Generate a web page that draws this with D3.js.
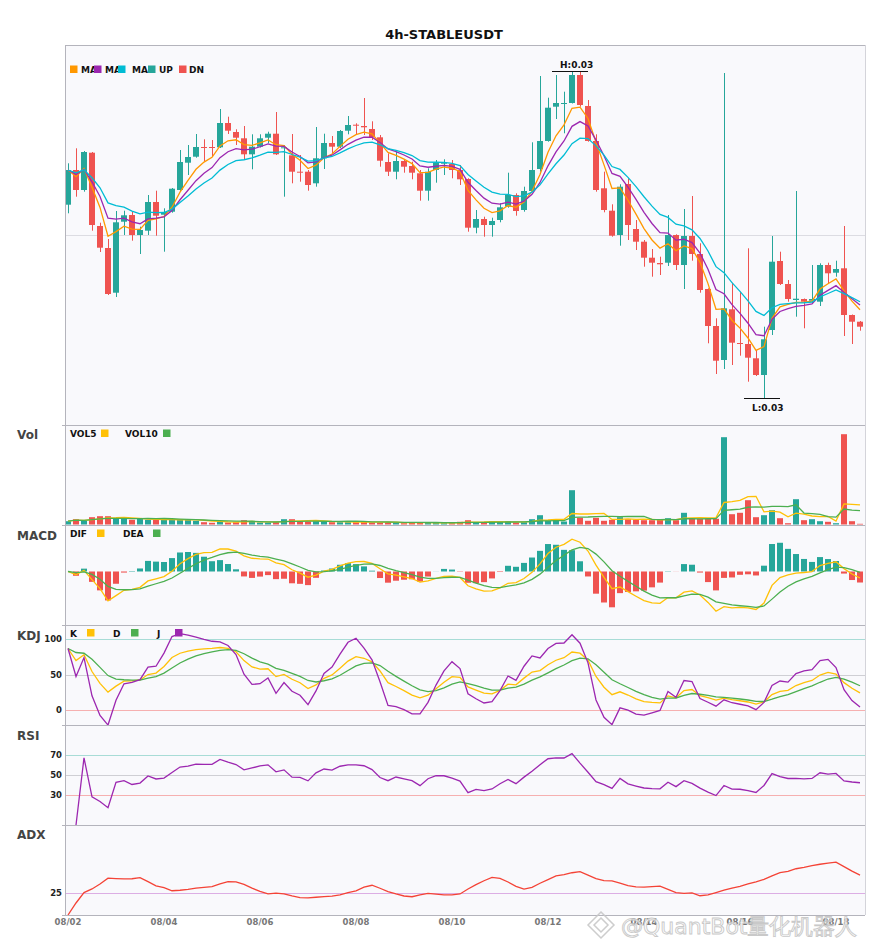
<!DOCTYPE html>
<html><head><meta charset="utf-8">
<script src="https://cdn.jsdelivr.net/npm/d3@7"></script>
<style>body{margin:0;background:#fff} text{font-family:"DejaVu Sans",sans-serif}</style>
</head><body>
<svg id="c" width="885" height="950"></svg>
<script>
const title = "4h-STABLEUSDT";
const times = [
"08/02 00:00","08/02 04:00","08/02 08:00","08/02 12:00","08/02 16:00","08/02 20:00",
"08/03 00:00","08/03 04:00","08/03 08:00","08/03 12:00","08/03 16:00","08/03 20:00",
"08/04 00:00","08/04 04:00","08/04 08:00","08/04 12:00","08/04 16:00","08/04 20:00",
"08/05 00:00","08/05 04:00","08/05 08:00","08/05 12:00","08/05 16:00","08/05 20:00",
"08/06 00:00","08/06 04:00","08/06 08:00","08/06 12:00","08/06 16:00","08/06 20:00",
"08/07 00:00","08/07 04:00","08/07 08:00","08/07 12:00","08/07 16:00","08/07 20:00",
"08/08 00:00","08/08 04:00","08/08 08:00","08/08 12:00","08/08 16:00","08/08 20:00",
"08/09 00:00","08/09 04:00","08/09 08:00","08/09 12:00","08/09 16:00","08/09 20:00",
"08/10 00:00","08/10 04:00","08/10 08:00","08/10 12:00","08/10 16:00","08/10 20:00",
"08/11 00:00","08/11 04:00","08/11 08:00","08/11 12:00","08/11 16:00","08/11 20:00",
"08/12 00:00","08/12 04:00","08/12 08:00","08/12 12:00","08/12 16:00","08/12 20:00",
"08/13 00:00","08/13 04:00","08/13 08:00","08/13 12:00","08/13 16:00","08/13 20:00",
"08/14 00:00","08/14 04:00","08/14 08:00","08/14 12:00","08/14 16:00","08/14 20:00",
"08/15 00:00","08/15 04:00","08/15 08:00","08/15 12:00","08/15 16:00","08/15 20:00",
"08/16 00:00","08/16 04:00","08/16 08:00","08/16 12:00","08/16 16:00","08/16 20:00",
"08/17 00:00","08/17 04:00","08/17 08:00","08/17 12:00","08/17 16:00","08/17 20:00",
"08/18 00:00","08/18 04:00","08/18 08:00","08/18 12:00"];
const open = [
0.030906,0.031600,0.031200,0.031946,0.030480,0.030040,0.029146,0.030566,0.030700,0.030300,
0.030386,0.030960,0.030706,0.030766,0.031200,0.031746,0.031866,0.032060,0.032060,0.032054,
0.032540,0.032360,0.032234,0.031914,0.032066,0.032246,0.032326,0.032034,0.031894,0.031566,
0.031566,0.031334,0.031834,0.032140,0.032066,0.032386,0.032506,0.032480,0.032420,0.032254,
0.031760,0.031566,0.031780,0.031680,0.031534,0.031186,0.031600,0.031734,0.031720,0.031600,
0.031420,0.030446,0.030620,0.030500,0.030600,0.030866,0.031100,0.030800,0.031180,0.031620,
0.032180,0.032866,0.032920,0.032940,0.033500,0.032880,0.032180,0.031234,0.030786,0.030300,
0.031320,0.030420,0.030166,0.029846,0.029740,0.029746,0.030300,0.029700,0.030280,0.029920,
0.029220,0.028480,0.027800,0.028814,0.028140,0.028120,0.027834,0.027500,0.028400,0.029780,
0.029320,0.029000,0.029020,0.028986,0.028966,0.029700,0.029546,0.029634,0.028700,0.028566];
const high = [
0.031734,0.032034,0.031980,0.031960,0.030546,0.030220,0.030780,0.030786,0.030766,0.030466,
0.031100,0.031186,0.030834,0.031240,0.032000,0.032100,0.032320,0.032214,0.032200,0.032820,
0.032666,0.032414,0.032480,0.032314,0.032314,0.032366,0.032760,0.032100,0.032320,0.031900,
0.031600,0.032460,0.032326,0.032280,0.032400,0.032680,0.032534,0.033040,0.032574,0.032300,
0.031934,0.031966,0.031814,0.031766,0.031600,0.031634,0.031800,0.031814,0.031800,0.031700,
0.031434,0.030800,0.030666,0.030646,0.030934,0.031546,0.031134,0.031266,0.032154,0.033480,
0.033046,0.033500,0.033166,0.033570,0.033566,0.033000,0.032314,0.031566,0.030914,0.031314,
0.031434,0.030600,0.030200,0.030020,0.029866,0.030700,0.030314,0.030820,0.031080,0.030134,
0.029234,0.028634,0.033540,0.029346,0.029166,0.030034,0.028000,0.028466,0.030280,0.029966,
0.029400,0.031180,0.029030,0.029700,0.029734,0.029746,0.029786,0.030480,0.028710,0.028580];
const low = [
0.030734,0.031066,0.031166,0.030386,0.029960,0.029100,0.029060,0.030300,0.030186,0.029920,
0.030300,0.030286,0.029966,0.030746,0.031180,0.031500,0.031846,0.031780,0.031866,0.032040,
0.032320,0.032100,0.031800,0.031614,0.032050,0.032134,0.031900,0.031066,0.031334,0.031366,
0.031186,0.031266,0.031620,0.031934,0.032040,0.032314,0.032300,0.032300,0.032200,0.031666,
0.031480,0.031414,0.031546,0.031414,0.030986,0.030986,0.031346,0.031500,0.031434,0.031300,
0.030366,0.030334,0.030266,0.030266,0.030554,0.030846,0.030686,0.030766,0.031166,0.031566,
0.032166,0.032620,0.032334,0.032930,0.032866,0.032166,0.031166,0.030754,0.030266,0.030086,
0.030200,0.030000,0.029666,0.029466,0.029500,0.029680,0.029600,0.029220,0.029786,0.029146,
0.028134,0.027520,0.027620,0.027700,0.027886,0.027366,0.027480,0.027034,0.028300,0.029300,
0.028966,0.028666,0.028434,0.028934,0.028880,0.029334,0.029466,0.028280,0.028120,0.028386];
const close = [
0.031600,0.031200,0.031960,0.030500,0.030046,0.029120,0.030554,0.030694,0.030300,0.030400,
0.030960,0.030686,0.030760,0.031226,0.031760,0.031860,0.032060,0.032046,0.032046,0.032540,
0.032386,0.032246,0.031914,0.032066,0.032234,0.032326,0.031914,0.032054,0.031566,0.031554,
0.031300,0.031834,0.032140,0.032066,0.032380,0.032500,0.032494,0.032454,0.032254,0.031786,
0.031566,0.031780,0.031666,0.031546,0.031186,0.031566,0.031746,0.031746,0.031600,0.031414,
0.030446,0.030620,0.030500,0.030580,0.030854,0.031100,0.030780,0.031180,0.031600,0.032180,
0.032846,0.032940,0.032940,0.033500,0.032900,0.032180,0.031200,0.030800,0.030286,0.031266,
0.030500,0.030166,0.029846,0.029746,0.029714,0.030300,0.029700,0.030280,0.029920,0.029200,
0.028480,0.027786,0.028834,0.028146,0.028120,0.027846,0.027500,0.028214,0.029766,0.029320,
0.029020,0.029026,0.028966,0.029020,0.029700,0.029534,0.029620,0.028700,0.028566,0.028466];
const volume = [
33000,53000,40000,73000,83000,83000,60000,57000,47000,57000,
47000,47000,47000,47000,50000,47000,37000,23000,17000,33000,
20000,23000,43000,30000,20000,20000,23000,53000,53000,33000,
30000,33000,30000,23000,23000,23000,23000,33000,20000,20000,
20000,20000,13000,20000,20000,17000,17000,13000,13000,27000,
43000,23000,20000,33000,27000,33000,20000,23000,53000,93000,
37000,47000,30000,343000,67000,37000,67000,37000,47000,73000,
53000,47000,43000,43000,47000,63000,43000,117000,57000,57000,
57000,57000,873000,103000,117000,243000,73000,93000,143000,63000,
13000,253000,43000,53000,33000,27000,13000,903000,33000,7000];
const xTickLabels = ["08/02","08/04","08/06","08/08","08/10","08/12","08/14","08/16","08/18"];
const maSpans = [5, 8, 13];
const maNames = ["MA5", "MA8", "MA13"];
const macdParams = [6, 13, 5];
const kdjTicks = [100, 50, 0];
const rsiTicks = [70, 50, 30];
const adxTicks = [25];

// ---------- indicators ----------
const N = close.length;
function emaFalse(a, span){ const al = 2/(span+1); let p; return a.map((v,i)=> (p = i===0 ? v : p + al*(v-p))); }
function emaTrue(a, alpha){ let num=0, den=0; return a.map(v=>{ num = v + (1-alpha)*num; den = 1 + (1-alpha)*den; return num/den; }); }
function sma(a, n){ return a.map((v,i)=> d3.mean(a.slice(Math.max(0,i-n+1), i+1))); }
const mas = maSpans.map(s => emaFalse(close, s));
const vol5 = sma(volume, 5), vol10 = sma(volume, 10);
const eF = emaFalse(close, macdParams[0]), eS = emaFalse(close, macdParams[1]);
const dif = eF.map((v,i)=> v - eS[i]);
const dea = emaFalse(dif, macdParams[2]);
const hist = dif.map((v,i)=> 2*(v - dea[i]));
// KDJ
const K=[], D=[], J=[];
for(let i=0;i<N;i++){
  const h9 = d3.max(high.slice(Math.max(0,i-8), i+1)), l9 = d3.min(low.slice(Math.max(0,i-8), i+1));
  const rsv = h9===l9 ? 50 : (close[i]-l9)/(h9-l9)*100;
  const k = i===0 ? rsv : K[i-1]*2/3 + rsv/3;
  const dd = i===0 ? k : D[i-1]*2/3 + k/3;
  K.push(k); D.push(dd); J.push(3*k - 2*dd);
}
// RSI
const gains=[], losses=[];
for(let i=1;i<N;i++){ const ch = close[i]-close[i-1]; gains.push(Math.max(ch,0)); losses.push(Math.max(-ch,0)); }
const ag = emaTrue(gains, 1/14), al = emaTrue(losses, 1/14);
const rsi = [null].concat(ag.map((g,i)=> (g+al[i])===0 ? 50 : 100*g/(g+al[i])));
// ADX
const adx=[]; { const a = 2/15; let sp=0, sm=0, ad=0;
  for(let i=0;i<N;i++){
    let pdm=0, mdm=0;
    if(i>0){ const up = high[i]-high[i-1], dn = low[i-1]-low[i];
      pdm = (up>dn && up>0) ? up : 0; mdm = (dn>up && dn>0) ? dn : 0; }
    sp = sp + a*(pdm-sp); sm = sm + a*(mdm-sm);
    const dx = (sp+sm)>0 ? 100*Math.abs(sp-sm)/(sp+sm) : 0;
    ad = i===0 ? dx : ad + a*(dx-ad); adx.push(ad);
  }}

// ---------- layout ----------
const svg = d3.select("#c");
const L = 65, R = 865;
const panels = { main:[45,425], vol:[425,525], macd:[525,625], kdj:[625,725], rsi:[725,825], adx:[825,915] };
const C = { up:"#26a69a", dn:"#ef5350", ma:["#ff9800","#9c27b0","#00bcd4"], yel:"#ffc107", grn:"#4caf50", pur:"#9c27b0", adx:"#f44336" };
const x = d3.scaleLinear().domain([0, N-1]).range([68, 860]);
const yMain = d3.scaleLinear().domain([0.027, 0.034]).range([400, 50]);
const yVol = d3.scaleLinear().domain([0, 1000000]).range([524.5, 424.5]);
const yMacd = d3.scaleLinear().domain([-0.000947, 0.000823]).range([625, 525]);
const yKdj = d3.scaleLinear().domain([0, 100]).range([710, 639]);
const yRsi = d3.scaleLinear().domain([0, 100]).range([825, 725]);
const yAdx = d3.scaleLinear().domain([0, 100]).range([915, 825]);

svg.append("rect").attr("x",L).attr("y",45).attr("width",R-L).attr("height",915-45).attr("fill","#f9f9fc");
const defs = svg.append("defs");
Object.entries(panels).forEach(([k,[t,b]])=>{
  defs.append("clipPath").attr("id","clip-"+k).append("rect").attr("x",L).attr("y",t).attr("width",R-L).attr("height",b-t);
});
svg.append("text").attr("x",444).attr("y",39).attr("text-anchor","middle").attr("font-size",13).attr("font-weight","bold").attr("fill","#111").text(title);

// grid/ref lines
svg.append("line").attr("x1",L).attr("x2",R).attr("y1",235.5).attr("y2",235.5).attr("stroke","#dcdce2");
function refLine(y, col){ svg.append("line").attr("x1",L).attr("x2",R).attr("y1",Math.round(y)+0.5).attr("y2",Math.round(y)+0.5).attr("stroke",col); }
kdjTicks.forEach(v=> refLine(yKdj(v), v===100? "#a8dcd6" : v===50 ? "#cfcfd4" : "#f6b0b0"));
rsiTicks.forEach(v=> refLine(yRsi(v), v===70? "#a8dcd6" : v===50 ? "#cfcfd4" : "#f6b0b0"));
adxTicks.forEach(v=> refLine(yAdx(v), "#dcaee4"));

// ---------- main candles ----------
const gMain = svg.append("g").attr("clip-path","url(#clip-main)");
const idx = d3.range(N);
const col = i => close[i] >= open[i] ? C.up : C.dn;
gMain.selectAll("line.wick").data(idx).join("line").attr("class","wick")
  .attr("x1",i=>x(i)+0.5).attr("x2",i=>x(i)+0.5).attr("y1",i=>yMain(high[i])).attr("y2",i=>yMain(low[i]))
  .attr("stroke",col).attr("stroke-width",1);
gMain.selectAll("rect.body").data(idx).join("rect").attr("class","body")
  .attr("x",i=>x(i)-3).attr("width",6)
  .attr("y",i=>yMain(Math.max(open[i],close[i])))
  .attr("height",i=>Math.max(1, Math.abs(yMain(open[i])-yMain(close[i]))))
  .attr("fill",col);
mas.forEach((m,k)=>{
  gMain.append("path").attr("d", d3.line().x((v,i)=>x(i)).y(v=>yMain(v))(m)).attr("fill","none").attr("stroke",C.ma[k]).attr("stroke-width",1.3);
});
// H / L markers
const iH = d3.maxIndex(high), iL = d3.minIndex(low);
[[iH, high[iH], "H", -4],[iL, low[iL], "L", 12]].forEach(([i,v,lab,dy])=>{
  const cx = x(i)-2, yy = Math.round(yMain(v))+0.5;
  svg.append("line").attr("x1",cx-18).attr("x2",cx+18).attr("y1",yy).attr("y2",yy).attr("stroke","#111").attr("stroke-width",1.2);
  svg.append("text").attr("x",cx-10).attr("y",yy+dy).attr("font-size",9).attr("font-weight","bold").attr("fill","#111").text(lab+":"+v.toFixed(2));
});

// ---------- volume ----------
const gVol = svg.append("g").attr("clip-path","url(#clip-vol)");
gVol.selectAll("rect").data(idx).join("rect").attr("x",i=>x(i)-3).attr("width",6)
  .attr("y",i=>yVol(volume[i])).attr("height",i=>yVol(0)-yVol(volume[i])).attr("fill",col);
[[vol5,C.yel],[vol10,C.grn]].forEach(([s,c])=> gVol.append("path").attr("d",d3.line().x((v,i)=>x(i)).y(v=>yVol(v))(s)).attr("fill","none").attr("stroke",c).attr("stroke-width",1.3));

// ---------- MACD ----------
const gM = svg.append("g").attr("clip-path","url(#clip-macd)");
gM.selectAll("rect").data(idx).join("rect").attr("x",i=>x(i)-3).attr("width",6)
  .attr("y",i=>Math.min(yMacd(hist[i]),yMacd(0))).attr("height",i=>Math.abs(yMacd(hist[i])-yMacd(0)))
  .attr("fill",i=>hist[i]>=0?C.up:C.dn);
[[dif,C.yel],[dea,C.grn]].forEach(([s,c])=> gM.append("path").attr("d",d3.line().x((v,i)=>x(i)).y(v=>yMacd(v))(s)).attr("fill","none").attr("stroke",c).attr("stroke-width",1.3));

// ---------- KDJ ----------
const gK = svg.append("g").attr("clip-path","url(#clip-kdj)");
[[K,C.yel],[D,C.grn],[J,C.pur]].forEach(([s,c])=> gK.append("path").attr("d",d3.line().x((v,i)=>x(i)).y(v=>yKdj(v))(s)).attr("fill","none").attr("stroke",c).attr("stroke-width",1.3));

// ---------- RSI ----------
const gR = svg.append("g").attr("clip-path","url(#clip-rsi)");
gR.append("path").attr("d",d3.line().defined(v=>v!==null).x((v,i)=>x(i)).y(v=>yRsi(v))(rsi)).attr("fill","none").attr("stroke",C.pur).attr("stroke-width",1.3);

// ---------- ADX ----------
const gA = svg.append("g").attr("clip-path","url(#clip-adx)");
gA.append("path").attr("d",d3.line().x((v,i)=>x(i)).y(v=>yAdx(v))(adx)).attr("fill","none").attr("stroke",C.adx).attr("stroke-width",1.3);

// ---------- frames ----------
const frameCol = "#b4b4bc";
[45,425,525,625,725,825,915].forEach(y=> svg.append("line").attr("x1",y===45?L:L-3).attr("x2",R).attr("y1",y+0.5).attr("y2",y+0.5).attr("stroke",frameCol));
svg.append("line").attr("x1",L+0.5).attr("x2",L+0.5).attr("y1",45).attr("y2",915).attr("stroke",frameCol);
svg.append("line").attr("x1",R+0.5).attr("x2",R+0.5).attr("y1",45).attr("y2",915).attr("stroke","#d4d4da");

// panel labels
[["Vol",439],["MACD",540],["KDJ",640],["RSI",740],["ADX",839]].forEach(([t,y])=>
  svg.append("text").attr("x",17).attr("y",y).attr("font-size",12).attr("font-weight","bold").attr("fill","#444").text(t));
// tick labels
function tickLab(v,y){ svg.append("text").attr("x",62).attr("y",y+3).attr("text-anchor","end").attr("font-size",8.5).attr("font-weight","bold").attr("fill","#222").text(v); }
kdjTicks.forEach(v=>tickLab(v, yKdj(v)));
rsiTicks.forEach(v=>tickLab(v, yRsi(v)));
adxTicks.forEach(v=>tickLab(v, yAdx(v)));
// x axis labels
xTickLabels.forEach(lab=>{
  const i = times.findIndex(t=>t.startsWith(lab));
  svg.append("text").attr("x",x(i)).attr("y",925).attr("text-anchor","middle").attr("font-size",8.5).attr("font-weight","bold").attr("fill","#777").text(lab);
});

// legends (each label is clipped where the next swatch begins, as in the reference)
function legend(items, yText, ySq, key){
  items.forEach((it,j)=>{
    const nx = j<items.length-1 ? items[j+1].sx : 900;
    const cid = "lg-"+key+"-"+j;
    defs.append("clipPath").attr("id",cid).append("rect").attr("x",it.tx-2).attr("y",ySq-6).attr("width",Math.max(0,nx-it.tx+2)).attr("height",20);
    svg.append("text").attr("x",it.tx).attr("y",yText).attr("clip-path",`url(#${cid})`).attr("font-size",9).attr("font-weight","bold").attr("fill","#111").text(it.t);
  });
  items.forEach(it=> svg.append("rect").attr("x",it.sx).attr("y",ySq).attr("width",7.5).attr("height",7.5).attr("fill",it.c));
}
legend([
  {t:maNames[0],c:C.ma[0],sx:70,tx:81},{t:maNames[1],c:C.ma[1],sx:94,tx:105},{t:maNames[2],c:C.ma[2],sx:118,tx:132},
  {t:"UP",c:C.up,sx:148,tx:159},{t:"DN",c:C.dn,sx:179,tx:189}], 72.5, 65.5, "m");
legend([{t:"VOL5",c:C.yel,sx:101,tx:70},{t:"VOL10",c:C.grn,sx:163,tx:125}], 437, 429.5, "v");
legend([{t:"DIF",c:C.yel,sx:97,tx:70},{t:"DEA",c:C.grn,sx:153,tx:123}], 537, 529.5, "d");
legend([{t:"K",c:C.yel,sx:87,tx:70},{t:"D",c:C.grn,sx:131,tx:113},{t:"J",c:C.pur,sx:175,tx:157}], 637, 629, "k");

// watermark
const wm = svg.append("g").attr("opacity",0.9);
wm.append("path").attr("d","M601,912 L614,925 L601,938 L588,925 Z M601,918 L608,925 L601,932 L594,925 Z")
  .attr("fill","none").attr("stroke","#c8c8c8").attr("stroke-width",1.5);
wm.append("text").attr("x",621).attr("y",934).attr("font-size",22).attr("font-family","'DejaVu Sans','Noto Sans CJK SC',sans-serif")
  .attr("fill","#ffffff").attr("fill-opacity",0.85).attr("stroke","#c4c4c4").attr("stroke-width",0.9).text("@QuantBot量化机器人");
</script>
</body></html>
